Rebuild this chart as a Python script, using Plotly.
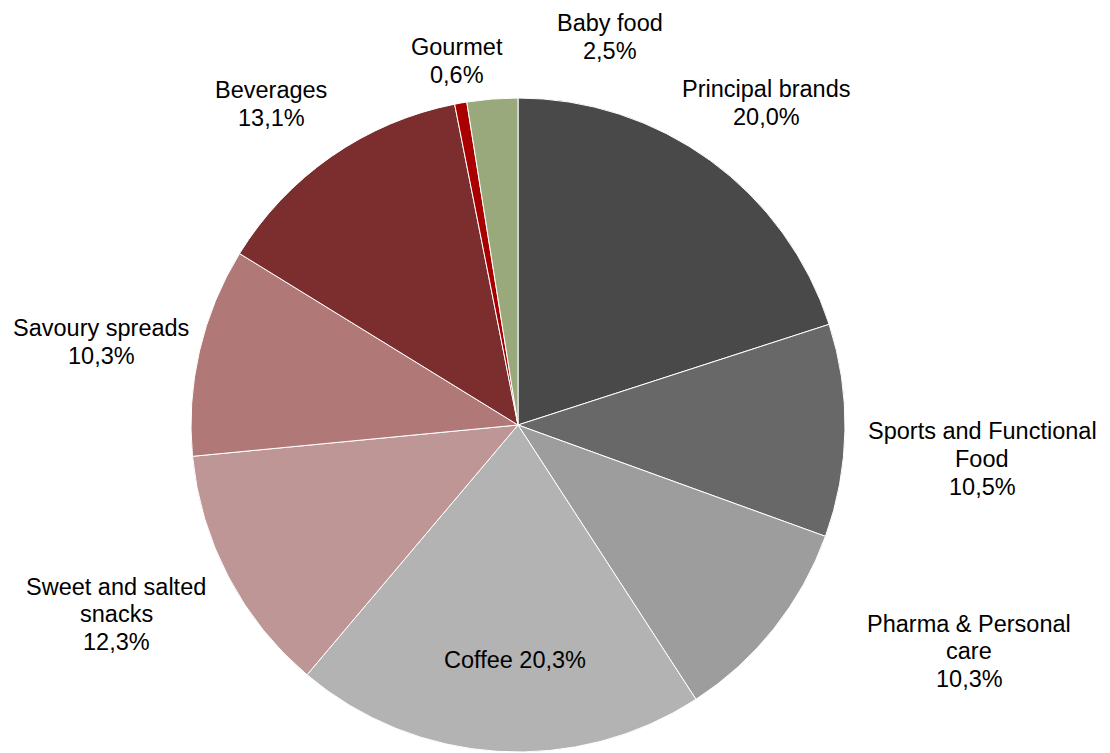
import plotly.graph_objects as go

categories = ["Principal brands", "Sports and Functional Food", "Pharma & Personal care",
              "Coffee", "Sweet and salted snacks", "Savoury spreads", "Beverages",
              "Gourmet", "Baby food"]
label_text = ["Principal brands", "Sports and Functional<br>Food", "Pharma & Personal<br>care",
              "Coffee", "Sweet and salted<br>snacks", "Savoury spreads", "Beverages",
              "Gourmet", "Baby food"]
values = [20.0, 10.5, 10.3, 20.3, 12.3, 10.3, 13.1, 0.6, 2.5]
colors = ["#494949", "#686868", "#9d9d9d", "#b3b3b3", "#bf9696", "#b07876",
          "#7c2d2e", "#a80000", "#9aa97b"]

W, H = 1110, 753
# label anchor positions (pixels) - layout only
label_pos = [(765, 102), (981, 458), (968, 650), (514, 659), (115, 613),
             (100, 341), (270, 103), (456, 60), (609, 36)]
OFF_X, OFF_Y = -7, -7
inline = [False, False, False, True, False, False, False, False, False]
LINE = 27.5

fig = go.Figure(go.Pie(
    labels=categories, values=values, sort=False, direction="clockwise",
    rotation=0, marker=dict(colors=colors, line=dict(color="white", width=1)),
    textinfo="none", hoverinfo="label+percent", showlegend=False,
    domain=dict(x=[183 / W, 837 / W], y=[9 / H, 663 / H]),
))

for name, v, (px, py), il in zip(label_text, values, label_pos, inline):
    pct = f"{v:.1f}%".replace(".", ",")
    lines = [f"{name} {pct}"] if il else name.split("<br>") + [pct]
    n = len(lines)
    for i, ln in enumerate(lines):
        yy = py + OFF_Y + (i - (n - 1) / 2) * LINE
        fig.add_annotation(x=(px + OFF_X) / W, y=1 - yy / H, xref="paper", yref="paper",
                           text=ln, showarrow=False, align="center",
                           xanchor="center", yanchor="middle", borderpad=0,
                           font=dict(family="Liberation Sans, Arial", size=23.5, color="black"))

fig.update_layout(width=W, height=H, margin=dict(l=0, r=0, t=0, b=0),
                  paper_bgcolor="white", plot_bgcolor="white")
fig.write_html("out.html")
